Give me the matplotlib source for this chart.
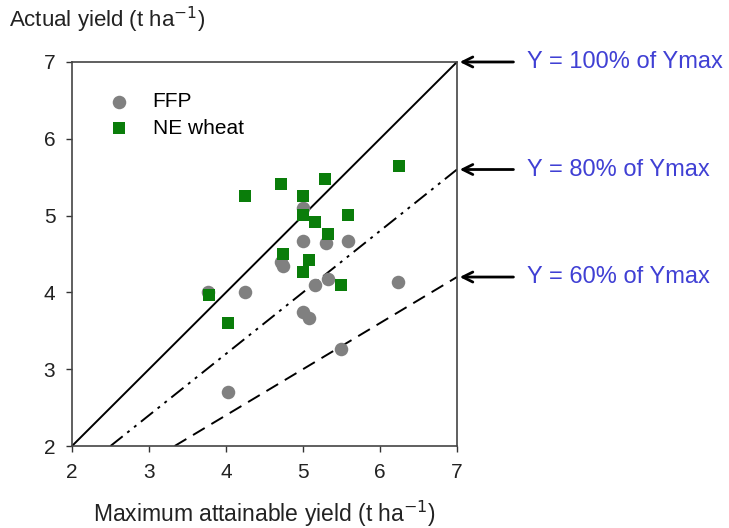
import matplotlib
matplotlib.use('Agg')
import matplotlib.pyplot as plt

plt.rcParams['font.family'] = ['Liberation Sans', 'DejaVu Sans']

# Farmer practice (FFP): maximum attainable yield vs actual yield (t/ha)
ffp_ymax = [3.77, 4.25, 4.03, 5.00, 5.00, 5.30, 5.58, 4.71, 4.74, 5.16, 5.33, 5.00, 5.08, 5.50, 6.24]
ffp_yact = [4.00, 4.00, 2.70, 5.10, 4.67, 4.64, 4.67, 4.40, 4.35, 4.09, 4.18, 3.75, 3.67, 3.26, 4.14]

# Nutrient Expert (NE wheat)
ne_ymax = [3.78, 4.02, 4.25, 4.72, 5.29, 5.00, 5.00, 5.16, 5.33, 5.58, 4.74, 5.08, 5.00, 5.49, 6.25]
ne_yact = [3.97, 3.60, 5.26, 5.41, 5.47, 5.26, 5.01, 4.92, 4.76, 5.01, 4.50, 4.42, 4.26, 4.09, 5.64]

# reference lines Y = f * Ymax
ref_fracs = [1.0, 0.8, 0.6]
ref_labels = ['Y = 100% of Ymax', 'Y = 80% of Ymax', 'Y = 60% of Ymax']
ref_styles = ['-', (0, (8, 3, 1.5, 3, 1.5, 3)), (0, (7, 4))]

ticks = [2, 3, 4, 5, 6, 7]

fig = plt.figure(figsize=(7.29, 5.28), dpi=100)
ax = fig.add_axes([0.0988, 0.1553, 0.528, 0.7273])

# reference lines, clipped to the axes box
for frac, style in zip(ref_fracs, ref_styles):
    x0 = max(2, 2 / frac)
    ax.plot([x0, 7], [frac * x0, frac * 7], color='black', lw=1.4, linestyle=style, zorder=1)

ax.scatter(ffp_ymax, ffp_yact, s=95, marker='o', color='#808080', label='FFP', zorder=2, linewidths=0)
ax.scatter(ne_ymax, ne_yact, s=85, marker='s', color='#0a7d0a', label='NE wheat', zorder=3, linewidths=0)

ax.set_xlim(2, 7)
ax.set_ylim(2, 7)
ax.set_xticks(ticks)
ax.set_yticks(ticks)
ax.tick_params(direction='out', length=4, width=1, labelsize=15, pad=8, colors='#333333',
               labelcolor='#222222')
for sp in ax.spines.values():
    sp.set_color('#444444')
    sp.set_linewidth(1.2)

ax.legend(loc='upper left', bbox_to_anchor=(0.02, 0.97), frameon=False, fontsize=15,
          handletextpad=0.6, labelspacing=0.35, scatterpoints=1)

ax.set_xlabel('Maximum attainable yield (t ha$^{-1}$)', fontsize=16.5, labelpad=12, color='#222222')
fig.text(0.013, 0.963, 'Actual yield (t ha$^{-1}$)', fontsize=16, color='#222222', va='center')

# arrows and labels for the reference lines
for frac, lab in zip(ref_fracs, ref_labels):
    ax.annotate('', xy=(7.0, 7 * frac), xytext=(7.77, 7 * frac),
                arrowprops=dict(arrowstyle='->', color='black', lw=2, mutation_scale=18),
                annotation_clip=False)
    ax.text(7.91, 7 * frac, lab, fontsize=17, color='#4040d4', va='center', ha='left', clip_on=False)

plt.savefig('out.png', dpi=100)
